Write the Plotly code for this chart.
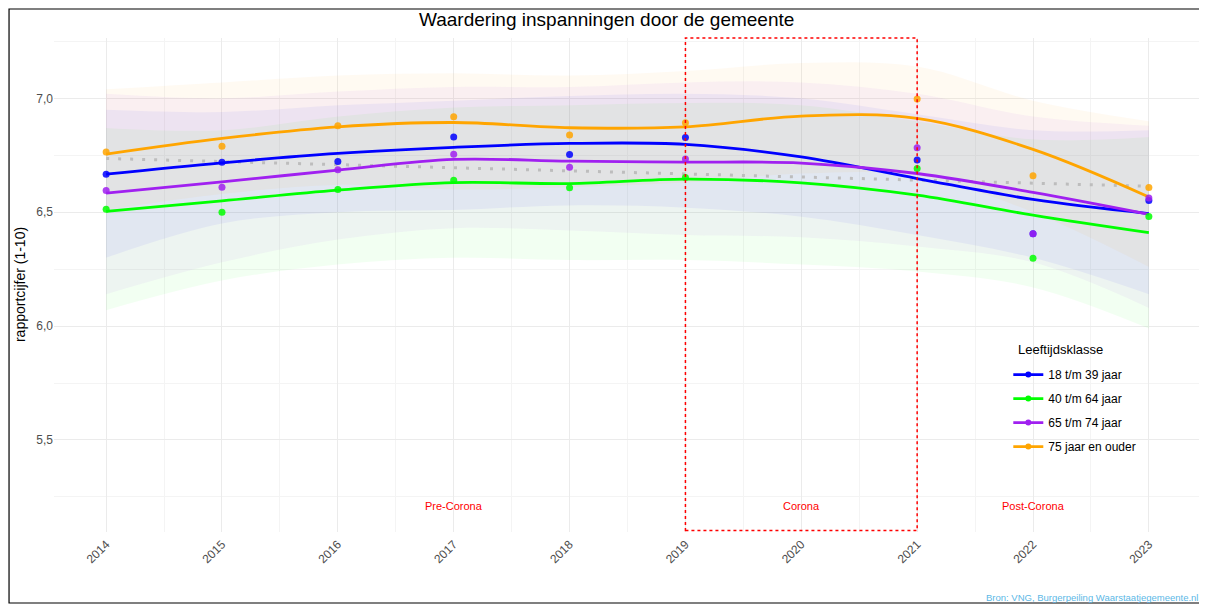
import plotly.graph_objects as go

# jaren en gemeten rapportcijfers per leeftijdsklasse
years = [2014, 2015, 2016, 2017, 2018, 2019, 2021, 2022, 2023]
blue_pts = [6.667, 6.72, 6.723, 6.83, 6.754, 6.828, 6.729, 6.405, 6.552]
green_pts = [6.513, 6.50, 6.60, 6.64, 6.607, 6.652, 6.692, 6.298, 6.481]
purple_pts = [6.595, 6.61, 6.686, 6.755, 6.697, 6.734, 6.783, 6.406, 6.562]
orange_pts = [6.765, 6.79, 6.88, 6.919, 6.839, 6.893, 6.997, 6.66, 6.609]

fit_years = [2014, 2015, 2016, 2017, 2018, 2019, 2020, 2021, 2022, 2023]
blue_fit = [6.667, 6.717, 6.758, 6.785, 6.802, 6.798, 6.743, 6.648, 6.556, 6.494]
green_fit = [6.504, 6.55, 6.597, 6.63, 6.626, 6.645, 6.629, 6.575, 6.487, 6.41]
purple_fit = [6.584, 6.633, 6.685, 6.732, 6.724, 6.72, 6.716, 6.67, 6.587, 6.491]
orange_fit = [6.755, 6.824, 6.875, 6.894, 6.871, 6.875, 6.922, 6.912, 6.776, 6.567]

blue_hi = [6.95, 6.94, 6.97, 6.99, 7.01, 7.02, 7.00, 6.93, 6.86, 6.86]
blue_lo = [6.30, 6.45, 6.50, 6.51, 6.53, 6.52, 6.48, 6.40, 6.30, 6.14]
green_hi = [6.87, 6.86, 6.92, 6.96, 6.97, 6.98, 6.97, 6.90, 6.82, 6.83]
green_lo = [6.07, 6.20, 6.27, 6.30, 6.29, 6.29, 6.27, 6.24, 6.17, 5.99]
purple_hi = [7.02, 7.00, 7.03, 7.05, 7.05, 7.07, 7.07, 7.02, 6.92, 6.88]
purple_lo = [6.14, 6.28, 6.38, 6.43, 6.42, 6.40, 6.39, 6.35, 6.28, 6.08]
orange_hi = [7.04, 7.07, 7.10, 7.11, 7.10, 7.12, 7.155, 7.14, 6.99, 6.90]
orange_lo = [6.51, 6.58, 6.62, 6.60, 6.61, 6.63, 6.67, 6.66, 6.50, 6.26]

# totaal (lineair)
total_years = [2014, 2023]
total_fit = [6.736, 6.614]

labels = ["18 t/m 39 jaar", "40 t/m 64 jaar", "65 t/m 74 jaar", "75 jaar en ouder"]
colors = ["#0000FF", "#00FF00", "#A020F0", "#FFA500"]
fills = ["rgba(0,0,255,0.05)", "rgba(0,255,0,0.05)", "rgba(160,32,240,0.05)", "rgba(255,165,0,0.05)"]

pts = [blue_pts, green_pts, purple_pts, orange_pts]
fits = [blue_fit, green_fit, purple_fit, orange_fit]
his = [blue_hi, green_hi, purple_hi, orange_hi]
los = [blue_lo, green_lo, purple_lo, orange_lo]

periods = ["Pre-Corona", "Corona", "Post-Corona"]
period_x = [2017, 2020, 2022]
period_y = 5.21

fig = go.Figure()

# banden
for i in range(4):
    fig.add_trace(go.Scatter(x=fit_years, y=los[i], mode="lines", line=dict(width=0, shape="spline"),
                             showlegend=False, hoverinfo="skip"))
    fig.add_trace(go.Scatter(x=fit_years, y=his[i], mode="lines", line=dict(width=0, shape="spline"),
                             fill="tonexty", fillcolor=fills[i], showlegend=False, hoverinfo="skip"))

fig.add_trace(go.Scatter(x=total_years, y=total_fit, mode="lines",
                         line=dict(color="#bdbdbd", width=3, dash="3px,9px"),
                         showlegend=False, hoverinfo="skip"))

for i in range(4):
    fig.add_trace(go.Scatter(x=fit_years, y=fits[i], mode="lines",
                             line=dict(color=colors[i], width=2.8, shape="spline"),
                             legendgroup=labels[i], showlegend=False))
for i in range(4):
    fig.add_trace(go.Scatter(x=years, y=pts[i], mode="markers",
                             marker=dict(color=colors[i], size=7, opacity=0.85),
                             legendgroup=labels[i], showlegend=False))
# legenda-items
for i in range(4):
    fig.add_trace(go.Scatter(x=[None], y=[None], mode="lines+markers", name=labels[i],
                             line=dict(color=colors[i], width=2.8),
                             marker=dict(color=colors[i], size=6),
                             legendgroup=labels[i]))

# Corona-kader
fig.add_shape(type="rect", xref="x", yref="paper", x0=2019, x1=2021, y0=0.003, y1=1,
              line=dict(color="red", width=1.5, dash="dot"))
# rand om figuur
fig.add_shape(type="rect", xref="paper", yref="paper", x0=-0.0392, x1=1.0035, y0=-0.1437, y1=1.0587,
              line=dict(color="black", width=1.2))

for p, px in zip(periods, period_x):
    fig.add_annotation(x=px, y=period_y, text=p, showarrow=False,
                       font=dict(color="red", size=11))

fig.add_annotation(xref="paper", yref="paper", x=0.999, y=-0.1316, xanchor="right", yanchor="middle",
                   text="Bron: VNG, Burgerpeiling Waarstaatjegemeente.nl", showarrow=False,
                   font=dict(color="#5cb8e6", size=9.5))

fig.add_annotation(xref="paper", yref="paper", x=-0.0296, y=0.5, xanchor="center", yanchor="middle",
                   text="rapportcijfer (1-10)", textangle=-90, showarrow=False,
                   font=dict(size=14, color="black"))

# legendatitel
fig.add_annotation(xref="paper", yref="paper", x=0.8387, y=0.3704, xanchor="left", yanchor="middle",
                   text="Leeftijdsklasse", showarrow=False,
                   font=dict(size=13, color="black"))

fig.update_layout(
    width=1207, height=605,
    margin=dict(l=46, r=14, t=30, b=81),
    paper_bgcolor="white", plot_bgcolor="white",
    font=dict(family="Liberation Sans, Arial", color="#4d4d4d"),
    separators=",.",
    title=dict(text="Waardering inspanningen door de gemeente", x=0.496, xanchor="center",
               y=0.982, yanchor="middle", font=dict(size=19, color="black")),
    legend=dict(x=0.832, y=0.348, xanchor="left", yanchor="top", tracegroupgap=5,
                font=dict(size=12, color="black"), bgcolor="rgba(0,0,0,0)"),
    showlegend=True,
)
fig.update_xaxes(range=[2013.55, 2023.45], tick0=2014, dtick=1, tickangle=-45, automargin=False,
                 showgrid=True, gridcolor="#ebebeb", gridwidth=1, zeroline=False,
                 tickfont=dict(size=12, color="#4d4d4d"), ticklabelstandoff=2,
                 minor=dict(dtick=0.5, showgrid=True, gridcolor="#f4f4f4"))
fig.update_yaxes(range=[5.096, 7.265], tick0=5.5, dtick=0.5, tickformat=".1f", automargin=False,
                 showgrid=True, gridcolor="#ebebeb", gridwidth=1, zeroline=False,
                 tickfont=dict(size=12, color="#4d4d4d"),
                 minor=dict(dtick=0.25, showgrid=True, gridcolor="#f4f4f4"))

fig.write_html("out.html")
